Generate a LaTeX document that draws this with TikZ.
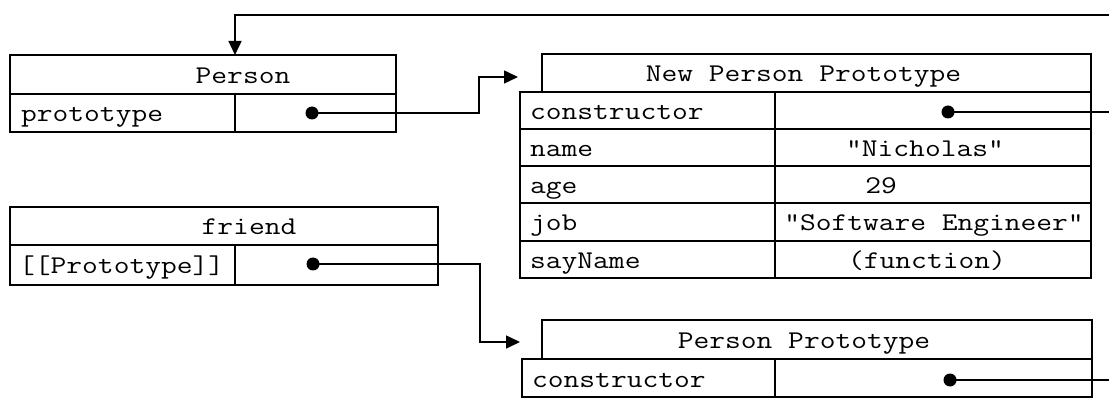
\documentclass[tikz,border=0pt]{standalone}
\usepackage{fontspec}
\usepackage{graphicx}
\usetikzlibrary{arrows.meta}
% typewriter labels, widened to the proportions of a Courier face
\newcommand\tw[1]{\scalebox{1.2}[1]{#1}}
\begin{document}
\begin{tikzpicture}[x=1pt,y=-1pt,
  cell/.style={draw, line width=1.5pt, inner sep=0pt, outer sep=0pt, anchor=north west},
  txt/.style={font=\ttfamily\fontsize{25.5}{30}\selectfont, inner sep=0pt,
              text height=20pt, text depth=2pt},
  keytxt/.style={txt, anchor=west},
  dot/.style={circle, fill, inner sep=0pt, minimum size=13pt},
  conn/.style={line width=1.5pt},
  ptr/.style={conn, -{Triangle[length=14pt,width=13pt]}}]
\useasboundingbox (0,0) rectangle (1109,398);

% ---- Person ----
\node[cell, minimum width=386pt, minimum height=39pt] (p-hdr) at (10,55) {};
\node[cell, minimum width=225pt, minimum height=38pt] (p-key) at (10,94) {};
\node[cell, minimum width=161pt, minimum height=38pt] (p-val) at (235,94) {};
\node[txt] at ([xshift=40pt]p-hdr.center) {\tw{Person}};
\node[keytxt] at ([xshift=11pt]p-key.west) {\tw{prototype}};
\node[dot] (p-dot) at (312,113) {};

% ---- friend ----
\node[cell, minimum width=428pt, minimum height=38pt] (f-hdr) at (10,207) {};
\node[cell, minimum width=225pt, minimum height=40pt] (f-key) at (10,245) {};
\node[cell, minimum width=203pt, minimum height=40pt] (f-val) at (235,245) {};
\node[txt] at ([xshift=25pt]f-hdr.center) {\tw{friend}};
\node[keytxt] at ([xshift=9pt]f-key.west) {\tw{[[Prototype]]}};
\node[dot] (f-dot) at (313,264) {};

% ---- New Person Prototype ----
\node[cell, minimum width=549pt, minimum height=38pt] (n-hdr) at (542,54) {};
\node[txt] at ([xshift=-13pt]n-hdr.center) {\tw{New Person Prototype}};
\node[cell, minimum width=255pt, minimum height=37pt] (n-k1) at (520,92) {};
\node[cell, minimum width=316pt, minimum height=37pt] (n-v1) at (775,92) {};
\node[cell, minimum width=255pt, minimum height=37pt] (n-k2) at (520,129) {};
\node[cell, minimum width=316pt, minimum height=37pt] (n-v2) at (775,129) {};
\node[cell, minimum width=255pt, minimum height=37pt] (n-k3) at (520,166) {};
\node[cell, minimum width=316pt, minimum height=37pt] (n-v3) at (775,166) {};
\node[cell, minimum width=255pt, minimum height=38pt] (n-k4) at (520,203) {};
\node[cell, minimum width=316pt, minimum height=38pt] (n-v4) at (775,203) {};
\node[cell, minimum width=255pt, minimum height=37pt] (n-k5) at (520,241) {};
\node[cell, minimum width=316pt, minimum height=37pt] (n-v5) at (775,241) {};
\node[keytxt] at ([xshift=10pt]n-k1.west) {\tw{constructor}};
\node[keytxt] at ([xshift=10pt]n-k2.west) {\tw{name}};
\node[keytxt] at ([xshift=10pt]n-k3.west) {\tw{age}};
\node[keytxt] at ([xshift=10pt]n-k4.west) {\tw{job}};
\node[keytxt] at ([xshift=10pt]n-k5.west) {\tw{sayName}};
\node[dot] (n-dot) at (948,112) {};
\node[txt] at ([xshift=-8pt]n-v2.center) {\tw{"Nicholas"}};
\node[txt] at ([xshift=-52pt]n-v3.center) {\tw{29}};
\node[txt] at ([xshift=1pt]n-v4.center) {\tw{"Software Engineer"}};
\node[txt] at ([xshift=-6pt]n-v5.center) {\tw{(function)}};

% ---- Person Prototype ----
\node[cell, minimum width=550pt, minimum height=39pt] (q-hdr) at (542,320) {};
\node[txt] at ([xshift=-13pt]q-hdr.center) {\tw{Person Prototype}};
\node[cell, minimum width=253pt, minimum height=38pt] (q-k1) at (522,359) {};
\node[cell, minimum width=317pt, minimum height=38pt] (q-v1) at (775,359) {};
\node[keytxt] at ([xshift=10pt]q-k1.west) {\tw{constructor}};
\node[dot] (q-dot) at (950,380) {};

% ---- connectors ----
\coordinate (top-out) at (1109,15);
\coordinate (n-out) at (1109,112);
\coordinate (q-out) at (1109,380);
\coordinate (n-jog) at (479,77);
\coordinate (n-in) at (518,77);
\coordinate (q-jog) at (480,342);
\coordinate (q-in) at (520,342);

\draw[ptr] (top-out) -| (p-key.east |- p-hdr.north);
\draw[ptr] (p-dot.center) -| (n-jog) -- (n-in);
\draw[ptr] (f-dot.center) -| (q-jog) -- (q-in);
\draw[conn] (n-dot.center) -- (n-out);
\draw[conn] (q-dot.center) -- (q-out);
\end{tikzpicture}
\end{document}
